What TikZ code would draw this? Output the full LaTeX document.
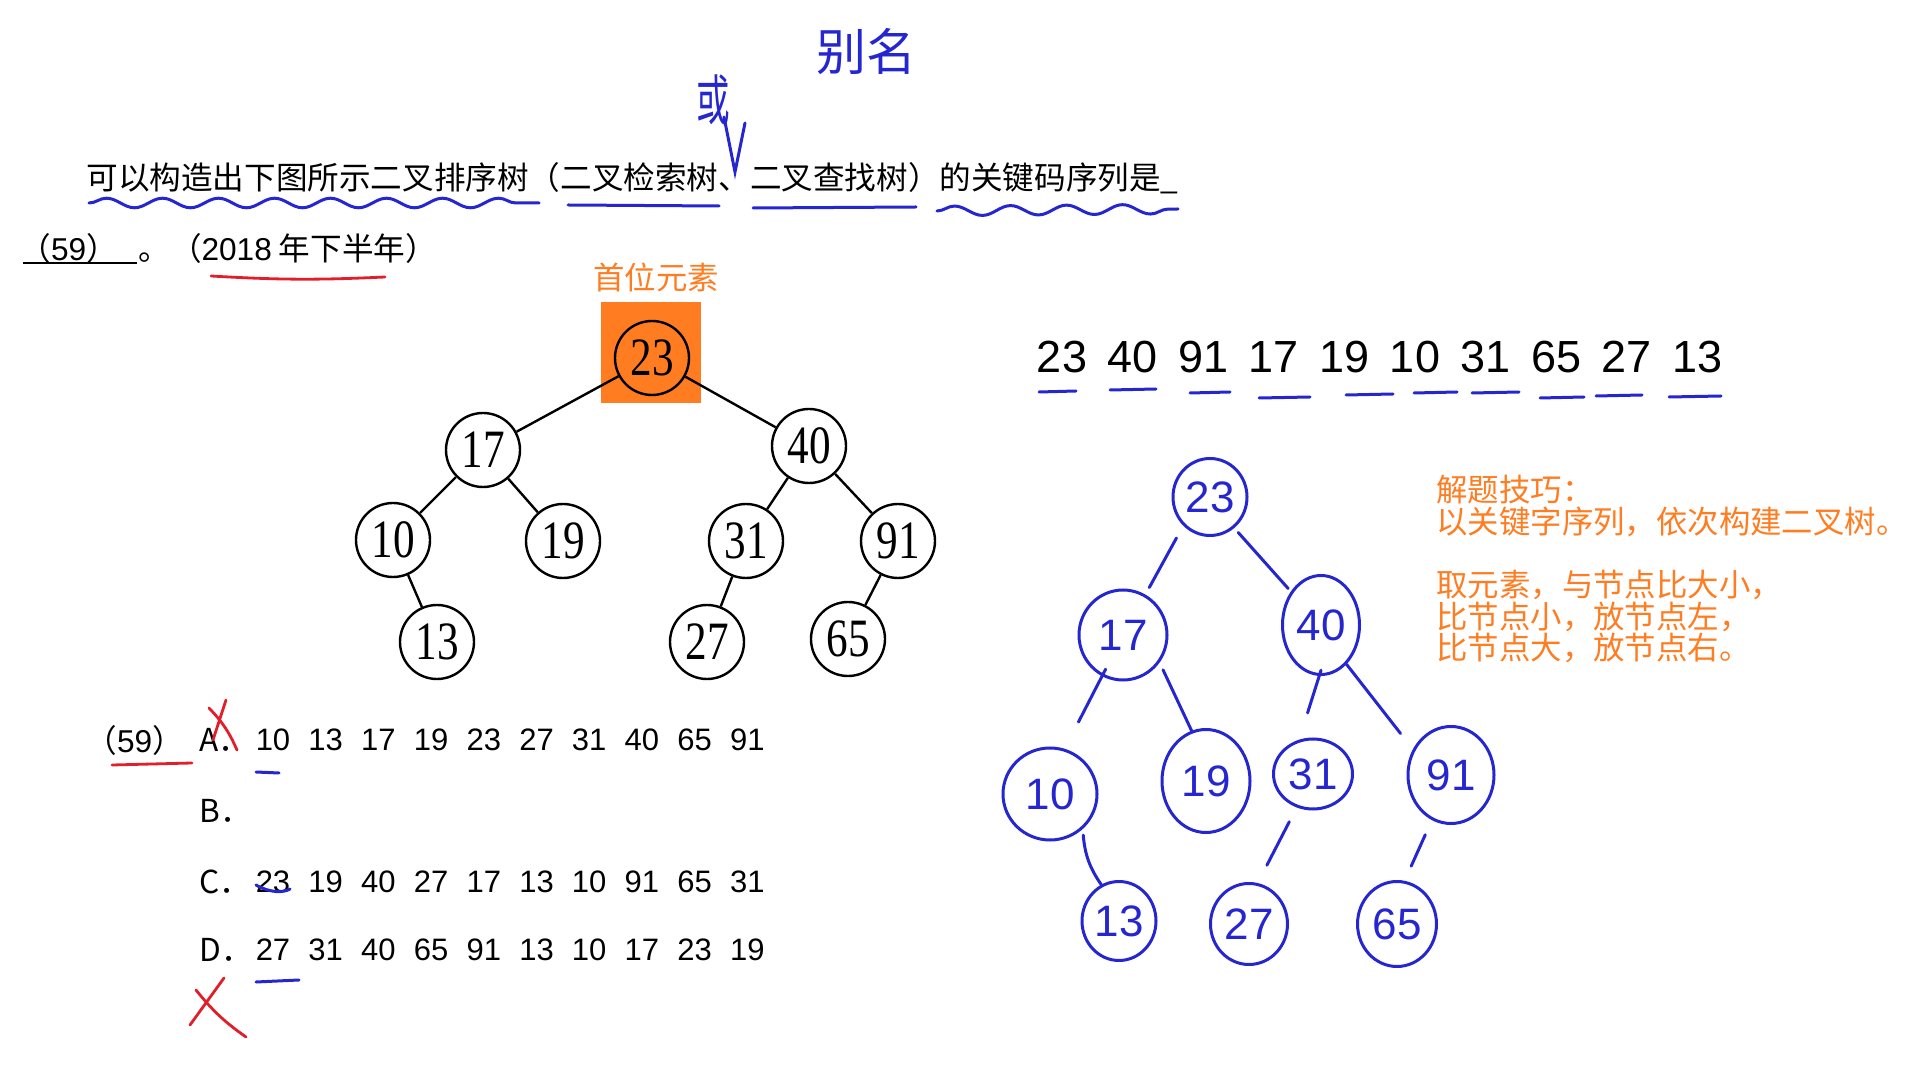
\documentclass[tikz,border=0pt]{standalone}
\usepackage{fontspec}
\setmainfont{Liberation Sans}
\newfontfamily\cjk{Noto Sans CJK SC}
\newfontfamily\timesnum{Liberation Serif}
\usetikzlibrary{
		positioning,
		shapes.geometric,
		decorations.pathmorphing
	}
\definecolor{ink}{RGB}{38,38,208}
\definecolor{redink}{RGB}{226,30,42}
\definecolor{hint}{RGB}{255,124,32}
\newcommand{\tallnum}[1]{\scalebox{0.8}[1]{#1}}
\newcommand{\lat}[1]{{\normalfont #1}}
\tikzset{
		bstnode/.style={circle,draw,line width=1.2pt,minimum size=37pt,inner sep=0pt,font=\timesnum\fontsize{27}{27}\selectfont},
		inknode/.style={ellipse,draw=ink,line width=1.5pt,inner sep=0pt,text=ink,font=\fontsize{22}{22}\selectfont},
		inkline/.style={ink,line width=1.5pt,line cap=round},
		redline/.style={redink,line width=1.4pt,line cap=round},
		wavyline/.style={inkline,decorate,decoration={snake,segment length=28pt,amplitude=2.4pt}},
		cntext/.style={inner sep=0pt,anchor=west,font=\cjk\fontsize{15.8}{15.8}\selectfont},
		optnum/.style={inner sep=0pt,font=\fontsize{15.5}{15.5}\selectfont},
		seqnum/.style={inner sep=0pt,font=\fontsize{22.5}{22.5}\selectfont},
		hinttext/.style={inner sep=0pt,text=hint,font=\cjk\fontsize{15.7}{15.8}\selectfont}
	}
\begin{document}
\begin{tikzpicture}[x=0.5pt, y=-0.5pt] % one unit = one pixel of the screen shot, y going down
\useasboundingbox (0,0) rectangle (1928,1074);

% the question
\node[cntext] (q1) at (86,178) {可以构造出下图所示二叉排序树（二叉检索树、二叉查找树）的关键码序列是\_};
\node[cntext] (q2) at (19,248) {（\lat{59}）};
\node[cntext] (q3) at (138,248) {。（\lat{2018} 年下半年）};
\draw[line width=1.2pt] (23,263) -- (137,263);

% pen marks on the question
\draw[wavyline] (89,203) -- (539,203);
\draw[inkline] (568,205) -- (719,206);
\draw[inkline] (753,208) -- (916,207);
\draw[wavyline] (937,211) -- (1178,209);
\draw[redline] (211,276) to[bend right=3] (385,277);
\node[text=ink,font=\cjk\fontsize{25}{25}\selectfont] (alias) at (866,52) {别名};
\node[text=ink,font=\cjk\fontsize{21}{21}\selectfont] (huo) at (713,100) {\scalebox{0.8}[1.3]{或}};
\draw[inkline] (724,117) -- (735,172) -- (745,123);

% tree of the question
\fill[hint] (601,302) rectangle (701,403);
\node[hinttext] (first) at (656,277) {首位元素};
\node[bstnode] (t23) at (652,358) {\tallnum{23}};
\node[bstnode] (t17) at (483,450) {\tallnum{17}};
\node[bstnode] (t40) at (809,446) {\tallnum{40}};
\node[bstnode] (t10) at (393,540) {\tallnum{10}};
\node[bstnode] (t19) at (563,541) {\tallnum{19}};
\node[bstnode] (t31) at (746,541) {\tallnum{31}};
\node[bstnode] (t91) at (898,541) {\tallnum{91}};
\node[bstnode] (t13) at (437,642) {\tallnum{13}};
\node[bstnode] (t27) at (707,642) {\tallnum{27}};
\node[bstnode] (t65) at (848,639) {\tallnum{65}};
\draw[line width=1.2pt]
  (t23) -- (t17) (t23) -- (t40)
  (t17) -- (t10) (t17) -- (t19) (t10) -- (t13)
  (t40) -- (t31) (t40) -- (t91) (t31) -- (t27) (t91) -- (t65);

% the answers
\node[cntext] (a59) at (85,740) {（\lat{59}）};
\draw[redline] (112,765) -- (192,763);
\foreach \l/\py in {A/740,B/811,C/882,D/950}
  \node[cntext] (opt\l) at (199,\py) {\l．};
\foreach \v [count=\i from 0] in {10,13,17,19,23,27,31,40,65,91}
  \node[optnum] (a\i) at (273+52.7*\i,740) {\v};
\foreach \v [count=\i from 0] in {23,19,40,27,17,13,10,91,65,31}
  \node[optnum] (c\i) at (273+52.7*\i,882) {\v};
\foreach \v [count=\i from 0] in {27,31,40,65,91,13,10,17,23,19}
  \node[optnum] (d\i) at (273+52.7*\i,950) {\v};
\draw[redline] (226,700) -- (213,740) (209,708) to[bend left=10] (237,750);
\draw[redline] (224,978) -- (190,1025) (196,990) to[bend right=8] (246,1037);
\draw[inkline] (256,772) -- (279,773);
\draw[inkline] (256,885) .. controls (270,893) and (283,893) .. (290,889);
\draw[inkline] (256,982) -- (299,980);

% key sequence
\foreach \v [count=\i from 0] in {23,40,91,17,19,10,31,65,27,13}
  \node[seqnum] (s\i) at (1062+70.6*\i,357) {\v};
\foreach \a/\b/\py in {1039/1076/392,1110/1156/390,1190/1230/393,1259/1310/398,1346/1393/395,
                       1414/1457/393,1472/1519/393,1540/1584/398,1596/1642/396,1669/1721/397}
  \draw[inkline] (\a,\py) -- (\b,\py-1);

% tree drawn by pen
\foreach \n/\px/\py/\w/\h in {23/1210/497/37/38.5,17/1123/635/44/45,40/1321/625/38.5/49.5,
                              10/1050/794/47/46,19/1206/781/44/51.5,31/1313/774/39.5/35,91/1451/775/43/48.5,
                              13/1119/921/37/39.5,27/1249/924/38.5/40.5,65/1397/924/39.5/42.5}
  \node[inknode,minimum width=\w pt,minimum height=\h pt] (h\n) at (\px,\py) {\n};
\draw[inkline,shorten <=7pt,shorten >=4pt] (h23.227) -- (h17.61);
\draw[inkline,shorten <=3pt,shorten >=2pt] (h23.308) -- (h40.132);
\draw[inkline,shorten <=-4pt,shorten >=15pt] (h17.243) -- (h10.72);
\draw[inkline,shorten <=4pt] (h17.323) -- (h19.106);
\draw[inkline,shorten <=-3pt,shorten >=14pt] (h40.268) -- (h31.112);
\draw[inkline,shorten >=10pt] (h40.303) -- (h91.146);
\draw[inkline,shorten <=3pt] (h10.313) to[out=-85,in=125] (h13.116);
\draw[inkline,shorten <=8pt,shorten >=10pt] (h31.244) -- (h27.78);
\draw[inkline,shorten <=8pt,shorten >=8pt] (h91.247) -- (h65.80);

% how to solve it
\node[hinttext,anchor=north west,align=left] (tips) at (1436,475)
  {解题技巧：\\以关键字序列，依次构建二叉树。\\[15.8pt]取元素，与节点比大小，\\比节点小，放节点左，\\比节点大，放节点右。};
\end{tikzpicture}
\end{document}
